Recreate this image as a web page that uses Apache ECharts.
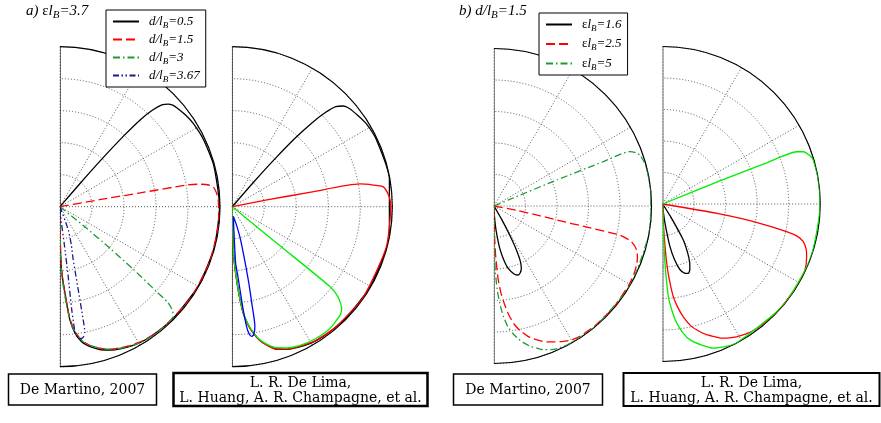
<!DOCTYPE html>
<html>
<head>
<meta charset="utf-8">
<script src="https://cdn.jsdelivr.net/npm/echarts@6.0.0/dist/echarts.min.js"></script>
<style>
  html, body { margin: 0; padding: 0; background: #fff; }
  #main { width: 881px; height: 423px; }
</style>
</head>
<body>
<div id="main"></div>
<script>
// every point is [angle in degrees (0 = right, +90 = up), transmission 0..1]

// a) eps*l_B = 3.7, De Martino 2007
const martinoD05 = [[49.5,0],[49.2,0.2],[48.7,0.4],[48,0.6],[47.2,0.75],[46.2,0.84],[45,0.9],[43.5,0.932],[42,0.948],[40,0.958],[36,0.972],[32,0.982],[25,0.99],[15,0.995],[0,0.997],[-15,0.997],[-30,0.996],[-45,0.994],[-55,0.99],[-60,0.985],[-64,0.975],[-67,0.965],[-70.2,0.952],[-74,0.93],[-77.3,0.9],[-79.5,0.875],[-80.9,0.855],[-83.2,0.797],[-85,0.71],[-86,0.605],[-87.5,0.48],[-88.6,0.4],[-89.3,0.3],[-89.6,0.15],[-90,0]];
const martinoD15 = [[10.4,0],[10.1,0.25],[9.8,0.5],[9.7,0.8],[9.2,0.88],[8.3,0.94],[7.4,0.966],[5,0.982],[2,0.99],[-5,0.995],[-20,0.996],[-35,0.996],[-50,0.993],[-58,0.985],[-63,0.972],[-67,0.958],[-70.5,0.945],[-74,0.922],[-77.5,0.89],[-80.5,0.85],[-82.8,0.795],[-84.8,0.71],[-86,0.61],[-87.4,0.49],[-88.5,0.4],[-89.2,0.3],[-89.6,0.15],[-90,0]];
const martinoD3 = [[-38.5,0],[-39,0.2],[-39.8,0.41],[-40.5,0.6],[-41.3,0.8],[-41.6,0.9],[-42.8,0.96],[-44.2,0.985],[-47,0.993],[-52,0.994],[-57,0.99],[-62,0.98],[-66,0.965],[-70,0.948],[-73.5,0.925],[-77,0.895],[-80,0.86],[-82.5,0.81],[-84.5,0.74],[-85.8,0.65],[-87,0.55],[-88.3,0.45],[-89,0.35],[-89.5,0.2],[-90,0]];
const martinoD367 = [[-69,0],[-70.4,0.155],[-73.5,0.25],[-76,0.34],[-77.6,0.53],[-78.4,0.72],[-78.8,0.8],[-80,0.83],[-81.3,0.835],[-82.5,0.82],[-83.2,0.78],[-83.5,0.65],[-83.3,0.44],[-83.5,0.23],[-85,0.1],[-88,0.03],[-90,0]];

// a) De Lima et al.
const limaD05 = [[49.5,0],[49,0.2],[48.3,0.4],[47.5,0.58],[46.5,0.72],[45.3,0.83],[44,0.9],[42.2,0.937],[40,0.955],[36,0.97],[31.8,0.985],[25,0.993],[10,0.997],[-10,0.997],[-30,0.996],[-45,0.994],[-55,0.99],[-60,0.985],[-65,0.97],[-69.1,0.954],[-73,0.93],[-76,0.89],[-78.5,0.85],[-80.6,0.8],[-82.5,0.74],[-84.1,0.67],[-85.5,0.56],[-86.6,0.46],[-88,0.34],[-89,0.22],[-89.5,0.1],[-90,0]];
const limaD15 = [[11.3,0],[11,0.22],[10.5,0.5],[10.1,0.81],[8.75,0.89],[7.5,0.952],[5,0.975],[2.4,0.987],[0,0.99],[-15,0.995],[-35,0.995],[-50,0.992],[-58,0.985],[-64,0.97],[-69,0.953],[-73,0.93],[-76,0.892],[-78.5,0.852],[-80.6,0.8],[-82.5,0.74],[-84.1,0.67],[-85.5,0.56],[-86.6,0.46],[-88,0.34],[-89,0.22],[-89.5,0.1],[-90,0]];
const limaD3 = [[-39.3,0],[-39.3,0.4],[-39.3,0.79],[-40.5,0.87],[-42.9,0.933],[-45,0.955],[-47.3,0.963],[-50,0.972],[-53,0.977],[-58,0.975],[-64.2,0.965],[-69,0.945],[-73,0.92],[-76,0.885],[-78.5,0.845],[-80.6,0.795],[-82.5,0.735],[-84.1,0.665],[-85.5,0.555],[-86.6,0.455],[-88,0.335],[-89,0.215],[-89.5,0.1],[-90,0]];
const limaD367 = [[-84,0.06],[-77,0.12],[-76,0.216],[-77.7,0.47],[-78.6,0.62],[-79.3,0.76],[-80.5,0.81],[-81.5,0.82],[-82.5,0.8],[-83.2,0.755],[-84,0.64],[-84.7,0.523],[-85.6,0.42],[-86.6,0.354],[-86.5,0.2],[-84,0.06]];

// b) d/l_B = 1.5, De Martino 2007
const martinoE16 = [[-59,0],[-60.3,0.1],[-61.5,0.2],[-62.5,0.28],[-64.3,0.38],[-66.3,0.432],[-68.5,0.455],[-70.8,0.464],[-73.5,0.45],[-77.3,0.405],[-80,0.34],[-82.3,0.27],[-84.5,0.18],[-86,0.12],[-88,0.05],[-90,0]];
const martinoE25 = [[-10.5,0],[-11,0.15],[-12,0.3],[-12.6,0.41],[-12.8,0.6],[-13,0.82],[-14.5,0.9],[-17.1,0.948],[-19.5,0.966],[-21.9,0.978],[-26,0.988],[-30,0.992],[-40,0.995],[-50,0.994],[-57,0.99],[-60,0.982],[-63,0.965],[-66,0.945],[-69.5,0.92],[-72.5,0.89],[-75.4,0.855],[-78,0.81],[-80.1,0.767],[-82.2,0.7],[-83.8,0.632],[-85.5,0.55],[-86.8,0.46],[-88,0.33],[-88.8,0.205],[-89.5,0.1],[-90,0]];
const martinoE5 = [[23,0],[22.8,0.1],[22.5,0.43],[22.1,0.75],[21.8,0.93],[20.5,0.965],[19.3,0.98],[16.5,0.993],[14,0.998],[5,1],[-10,1],[-30,1],[-50,1],[-62,0.997],[-66,0.99],[-68.5,0.98],[-71,0.965],[-73,0.945],[-75.5,0.92],[-78,0.885],[-80,0.85],[-81.5,0.82],[-83.5,0.77],[-85.2,0.7],[-86.6,0.62],[-87.8,0.53],[-88.8,0.42],[-89.4,0.3],[-89.8,0.15],[-90,0]];

// b) De Lima et al.
const limaE16 = [[-56,0],[-58,0.1],[-60.2,0.26],[-63,0.35],[-65.3,0.41],[-67.5,0.45],[-69.7,0.47],[-72.5,0.46],[-75.3,0.43],[-78,0.36],[-80.3,0.275],[-83.2,0.12],[-86,0.04],[-90,0]];
const limaE25 = [[-9.5,0],[-9.8,0.35],[-11,0.6],[-12.6,0.81],[-13.5,0.88],[-15,0.924],[-17.5,0.955],[-20.1,0.973],[-24.9,0.996],[-30,0.998],[-40.4,0.998],[-48,0.995],[-53,0.99],[-56,0.985],[-58.5,0.975],[-61,0.965],[-63.5,0.95],[-66.3,0.93],[-69,0.9],[-71.5,0.875],[-73.7,0.845],[-76.7,0.8],[-79.6,0.73],[-81.8,0.66],[-83.5,0.59],[-85,0.48],[-86.1,0.377],[-87,0.25],[-88,0.12],[-90,0]];
const limaE5 = [[22.5,0],[22.1,0.4],[21.6,0.7],[21.3,0.913],[20.4,0.952],[18.5,0.98],[16.3,0.996],[8.8,1],[0,1],[-20,1],[-40,1],[-62,1],[-66,0.99],[-70.7,0.97],[-74.5,0.93],[-78.6,0.88],[-81,0.83],[-83.3,0.76],[-85,0.68],[-86.5,0.59],[-87.8,0.377],[-88.5,0.2],[-90,0]];

// half-disc frame (radius 1 at top, centre, radius 1 at bottom)
const frame = [[90,1],[0,0],[-90,1]];

const panelTitles = ['a) εl_B=3.7', 'b) d/l_B=1.5'];
const legendA = ['d/l_B=0.5', 'd/l_B=1.5', 'd/l_B=3', 'd/l_B=3.67'];
const legendB = ['εl_B=1.6', 'εl_B=2.5', 'εl_B=5'];
const sourceLabels = ['De Martino, 2007', 'L. R. De Lima,', 'L. Huang, A. R. Champagne, et al.'];

// turns 'd/l_B=0.5' into rich text with an italic body and subscript B
function fmt(name) {
  let out = '';
  for (let i = 0; i < name.length; i++) {
    const c = name[i];
    if (c === '_') { out += '{s|' + name[i + 1] + '}'; i++; }
    else if (c === 'ε') out += '{g|ε}';
    else out += '{t|' + c + '}';
  }
  return out;
}

function richFor(size) {
  const base = { fontFamily: 'Liberation Serif', fontWeight: 'normal', lineHeight: 16, color: '#000' };
  return {
    t: Object.assign({}, base, { fontStyle: 'italic', fontSize: size }),
    g: Object.assign({}, base, { fontSize: size }),
    s: Object.assign({}, base, { fontStyle: 'italic', fontSize: size - 4, padding: [8, 0, 0, 0] })
  };
}

const dotted = { color: '#555', width: 1, type: [1, 2] };

const polars = [
  { center: [60, 206.7], radius: 160 },
  { center: [232.3, 206.7], radius: 160 },
  { center: [494, 206], radius: 157.5 },
  { center: [662.7, 204], radius: 157.5 }
];

const angleAxes = polars.map((p, i) => ({
  polarIndex: i, type: 'value', min: -90, max: 90, interval: 30,
  startAngle: -90, endAngle: 90, clockwise: false,
  axisLine: { lineStyle: { color: '#000', width: 1.2 } },
  axisTick: { show: false }, axisLabel: { show: false },
  splitLine: { lineStyle: dotted }
}));

const radiusAxes = polars.map((p, i) => ({
  polarIndex: i, type: 'value', min: 0, max: 1, interval: 0.2,
  axisLine: { show: false }, axisTick: { show: false }, axisLabel: { show: false },
  splitLine: { lineStyle: dotted }
}));

function curve(name, polarIndex, pts, color, type) {
  return {
    name: name, type: 'line', coordinateSystem: 'polar', polarIndex: polarIndex,
    symbol: 'none', smooth: 0.2, silent: true, z: 5,
    data: pts.map(p => [p[1], p[0]]),
    lineStyle: { color: color, width: 1.3, type: type },
    itemStyle: { color: color }
  };
}

const DASH = [9, 4];
const DASHDOT = [7, 3, 1.5, 3];
const DASHDOTDOT = [6, 2.5, 1.5, 2.5, 1.5, 2.5];

const series = [];
polars.forEach((p, i) => {
  series.push({
    name: 'frame' + i, type: 'line', coordinateSystem: 'polar', polarIndex: i,
    symbol: 'none', silent: true, z: 4,
    data: frame.map(f => [f[1], f[0]]),
    lineStyle: { color: i < 2 ? '#111' : '#666', width: i < 2 ? 1.2 : 1.6 }
  });
});
series.push(
  curve(legendA[0], 0, martinoD05, '#000', 'solid'),
  curve(legendA[1], 0, martinoD15, '#ff0000', DASH),
  curve(legendA[2], 0, martinoD3, '#1e9a35', DASHDOT),
  curve(legendA[3], 0, martinoD367, '#1a1a8a', DASHDOTDOT),
  curve('lima ' + legendA[0], 1, limaD05, '#000', 'solid'),
  curve('lima ' + legendA[1], 1, limaD15, '#ff0000', 'solid'),
  curve('lima ' + legendA[2], 1, limaD3, '#00ee00', 'solid'),
  curve('lima ' + legendA[3], 1, limaD367, '#0000ff', 'solid'),
  curve(legendB[0], 2, martinoE16, '#000', 'solid'),
  curve(legendB[1], 2, martinoE25, '#ff0000', DASH),
  curve(legendB[2], 2, martinoE5, '#1e9a35', DASHDOT),
  curve('lima ' + legendB[0], 3, limaE16, '#000', 'solid'),
  curve('lima ' + legendB[1], 3, limaE25, '#ff0000', 'solid'),
  curve('lima ' + legendB[2], 3, limaE5, '#00ee00', 'solid')
);

function legendBox(names, left, top, gap, pad) {
  return {
    data: names, left: left, top: top, orient: 'vertical',
    backgroundColor: '#fff', borderColor: '#000', borderWidth: 1,
    padding: pad, itemGap: gap, itemWidth: 26, itemHeight: 12,
    selectedMode: false, z: 10,
    itemStyle: { color: 'rgba(0,0,0,0)', borderWidth: 0 },
    formatter: fmt,
    textStyle: { padding: [0, 0, 0, 5], rich: richFor(13) }
  };
}

function box(x, y, w, h, lw) {
  return { type: 'rect', shape: { x: x, y: y, width: w, height: h },
    style: { fill: '#fff', stroke: '#000', lineWidth: lw } };
}
function label(text, x, y) {
  return { type: 'text', x: x, y: y,
    style: { text: text, font: '14px "DejaVu Serif"', fill: '#000', textAlign: 'center', textVerticalAlign: 'middle' } };
}

const chart = echarts.init(document.getElementById('main'));
chart.setOption({
  animation: false,
  backgroundColor: '#fff',
  title: [
    { text: fmt(panelTitles[0]), left: 26, top: 3, padding: 0, textStyle: { rich: richFor(15) } },
    { text: fmt(panelTitles[1]), left: 459, top: 3, padding: 0, textStyle: { rich: richFor(15) } }
  ],
  legend: [legendBox(legendA, 106, 10, 1, [3, 6, 3, 6]), legendBox(legendB, 539, 13, 2.5, [3, 6, 3, 6])],
  polar: polars,
  angleAxis: angleAxes,
  radiusAxis: radiusAxes,
  series: series,
  graphic: [
    box(8.5, 374, 148, 31, 1.5), label(sourceLabels[0], 82.5, 390),
    box(173.5, 373, 254, 33, 2.5), label(sourceLabels[1], 300.5, 383), label(sourceLabels[2], 300.5, 398),
    box(453.5, 374, 149, 31, 1.5), label(sourceLabels[0], 528, 390),
    box(623.5, 373, 256, 33, 2), label(sourceLabels[1], 751.5, 383), label(sourceLabels[2], 751.5, 398)
  ]
});
</script>
</body>
</html>
